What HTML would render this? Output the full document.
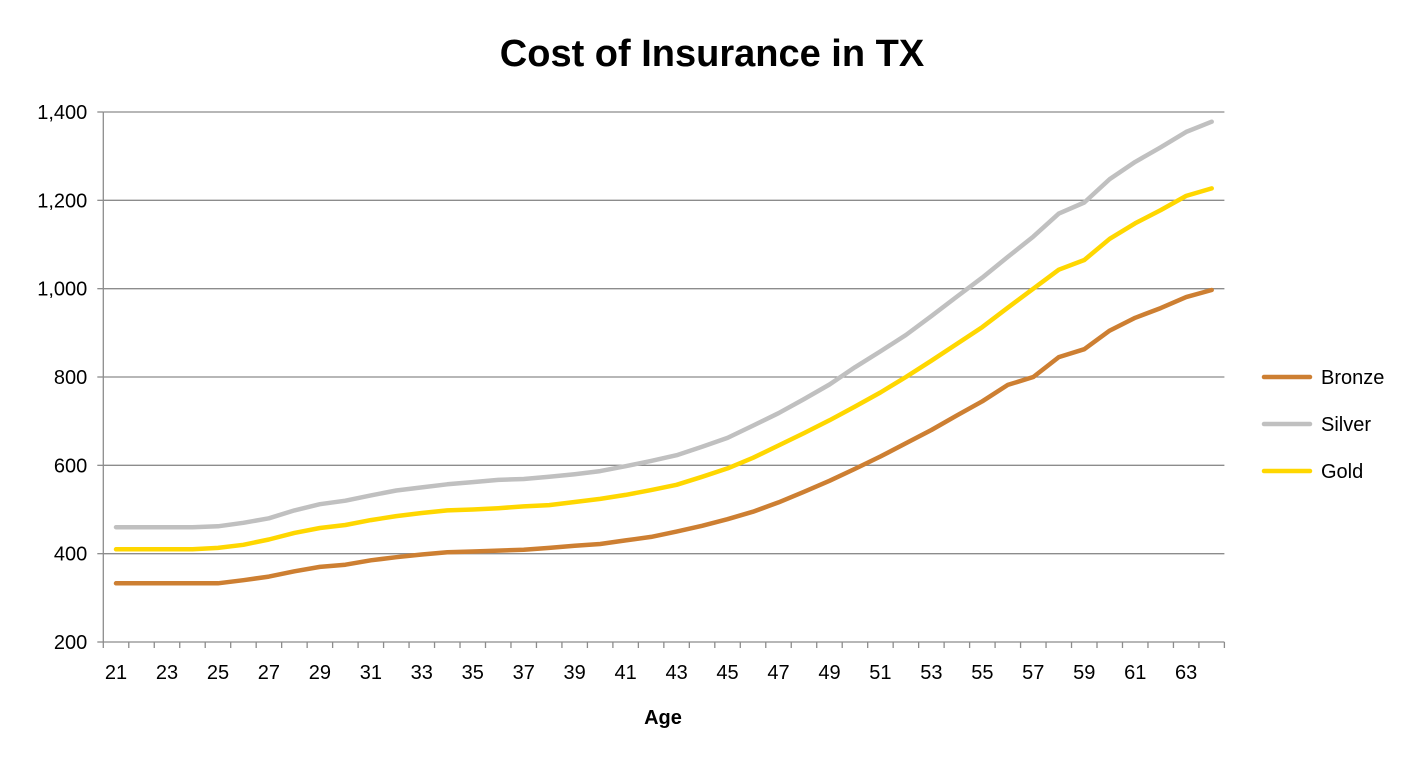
<!DOCTYPE html>
<html><head><meta charset="utf-8"><style>
body{margin:0;background:#fff;}
svg{display:block;font-family:"Liberation Sans",sans-serif;}
</style></head><body>
<svg id="chart" width="1424" height="766">
<text x="712" y="66" text-anchor="middle" font-size="38" font-weight="bold" fill="#000">Cost of Insurance in TX</text>
<text x="663" y="724" text-anchor="middle" font-size="20" font-weight="bold" fill="#000">Age</text>
<g id="grid"></g><g id="axes"></g><g id="series"></g><g id="legend"></g>
</svg>
<script>
const ages = [];
for (let a = 21; a <= 64; a++) ages.push(a);
const bronze = [333,333,333,333,333,340,348,360,370,375,385,392,398,403,405,407,409,413,418,422,430,438,450,463,478,495,516,540,565,592,620,650,680,713,745,782,800,845,863,905,934,956,981,997];
const silver = [460,460,460,460,462,470,480,498,512,520,532,543,550,557,562,567,569,574,580,587,598,610,623,642,662,690,718,750,783,822,858,895,938,982,1025,1072,1118,1170,1195,1248,1287,1320,1355,1378];
const gold = [410,410,410,410,413,420,432,447,458,465,476,485,492,498,500,503,507,510,517,524,533,544,556,574,593,617,645,673,702,733,765,800,837,875,913,957,1000,1043,1065,1113,1148,1178,1210,1227];
const yTicks = [200,400,600,800,1000,1200,1400];
const yTickLabels = ["200","400","600","800","1,000","1,200","1,400"];
const seriesNames = ["Bronze","Silver","Gold"];
const seriesColors = ["#CD7F32","#C0C0C0","#FFD700"];
const seriesData = [bronze, silver, gold];

const NS = "http://www.w3.org/2000/svg";
const L = 103.3, R = 1224.4, T = 112, B = 642, yMin = 200, yMax = 1400;
const step = (R - L) / ages.length;
const xPos = i => L + step * (i + 0.5);
const yPos = v => B - (v - yMin) / (yMax - yMin) * (B - T);
function mk(tag, attrs, parent) {
  const e = document.createElementNS(NS, tag);
  for (const k in attrs) e.setAttribute(k, attrs[k]);
  parent.appendChild(e);
  return e;
}
const grid = document.getElementById("grid"), axes = document.getElementById("axes"),
      ser = document.getElementById("series"), leg = document.getElementById("legend");
yTicks.forEach((v, i) => {
  const y = yPos(v);
  if (v !== yMin) {
    const g = mk("line", {x1: L, x2: R, y1: y, y2: y, stroke: "#8c8c8c", "stroke-width": 1.3}, grid);
    
    
  }
  mk("line", {x1: L - 6, x2: L, y1: y, y2: y, stroke: "#8c8c8c", "stroke-width": 1.3}, axes);
  const t = mk("text", {x: L - 16, y: y + 7, "text-anchor": "end", "font-size": 20, fill: "#000"}, axes);
  t.textContent = yTickLabels[i];
  
  
});
const ya = mk("line", {x1: L, x2: L, y1: T, y2: B, stroke: "#8c8c8c", "stroke-width": 1.3}, axes);


const xa = mk("line", {x1: L, x2: R, y1: B, y2: B, stroke: "#8c8c8c", "stroke-width": 1.3}, axes);


for (let i = 0; i <= ages.length; i++) {
  const x = L + step * i;
  mk("line", {x1: x, x2: x, y1: B, y2: B + 6, stroke: "#8c8c8c", "stroke-width": 1.3}, axes);
}
ages.forEach((a, i) => {
  if (i % 2 === 0) {
    const t = mk("text", {x: xPos(i), y: B + 37, "text-anchor": "middle", "font-size": 20, fill: "#000"}, axes);
    t.textContent = a;
    
    
  }
});
seriesData.forEach((d, s) => {
  const pts = d.map((v, i) => xPos(i).toFixed(1) + "," + yPos(v).toFixed(1)).join(" ");
  const p = mk("polyline", {points: pts, fill: "none", stroke: seriesColors[s], "stroke-width": 4.5, "stroke-linejoin": "round", "stroke-linecap": "round"}, ser);
  
  
  const ly = 377 + s * 47;
  const lg = mk("g", {}, leg);
  
  
  mk("line", {x1: 1264, x2: 1310, y1: ly, y2: ly, stroke: seriesColors[s], "stroke-width": 4.5, "stroke-linecap": "round"}, lg);
  const t = mk("text", {x: 1321, y: ly + 7, "font-size": 20, fill: "#000"}, lg);
  t.textContent = seriesNames[s];
});
</script>
</body></html>
